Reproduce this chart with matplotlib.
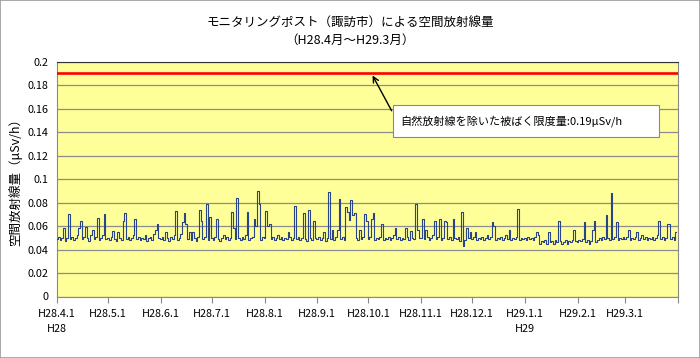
import matplotlib
matplotlib.use("Agg")
import matplotlib.pyplot as plt
import matplotlib.dates as mdates
from matplotlib.patches import Rectangle
import numpy as np
import datetime as dt

plt.rcParams['font.family'] = ['Noto Sans CJK JP', 'DejaVu Sans']

# ---- data (daily dose rate, μSv/h) ----
apr = [0.049, 0.051, 0.048, 0.050, 0.058, 0.047, 0.050, 0.070, 0.049, 0.051,
       0.048, 0.050, 0.052, 0.058, 0.064, 0.049, 0.051, 0.059, 0.050, 0.047,
       0.052, 0.057, 0.049, 0.051, 0.067, 0.048, 0.050, 0.052, 0.070, 0.049]
may = [0.050, 0.048, 0.051, 0.056, 0.049, 0.047, 0.055, 0.050, 0.048, 0.064,
       0.071, 0.049, 0.051, 0.048, 0.050, 0.052, 0.066, 0.049, 0.051, 0.048,
       0.050, 0.049, 0.052, 0.047, 0.050, 0.051, 0.048, 0.053, 0.057, 0.062, 0.050]
jun = [0.049, 0.051, 0.048, 0.055, 0.050, 0.047, 0.051, 0.049, 0.052, 0.073,
       0.048, 0.050, 0.053, 0.063, 0.071, 0.062, 0.049, 0.055, 0.048, 0.055,
       0.050, 0.047, 0.051, 0.074, 0.064, 0.049, 0.051, 0.079, 0.048, 0.068]
jul = [0.050, 0.048, 0.051, 0.066, 0.049, 0.047, 0.050, 0.052, 0.049, 0.051,
       0.048, 0.050, 0.072, 0.058, 0.049, 0.084, 0.050, 0.048, 0.051, 0.049,
       0.052, 0.072, 0.048, 0.050, 0.051, 0.066, 0.060, 0.090, 0.079, 0.048, 0.051]
aug = [0.050, 0.073, 0.060, 0.062, 0.049, 0.051, 0.048, 0.050, 0.052, 0.049,
       0.051, 0.048, 0.050, 0.049, 0.055, 0.051, 0.048, 0.050, 0.077, 0.049,
       0.051, 0.048, 0.050, 0.071, 0.049, 0.047, 0.074, 0.050, 0.048, 0.064, 0.050]
sep = [0.049, 0.051, 0.048, 0.050, 0.055, 0.047, 0.050, 0.089, 0.049, 0.057,
       0.048, 0.051, 0.057, 0.083, 0.049, 0.051, 0.048, 0.076, 0.072, 0.065,
       0.082, 0.069, 0.071, 0.050, 0.048, 0.057, 0.049, 0.051, 0.070, 0.064]
oct_ = [0.049, 0.051, 0.066, 0.071, 0.048, 0.050, 0.049, 0.051, 0.062, 0.048,
        0.050, 0.049, 0.051, 0.048, 0.050, 0.052, 0.058, 0.049, 0.051, 0.048,
        0.050, 0.049, 0.058, 0.051, 0.048, 0.056, 0.050, 0.049, 0.079, 0.057, 0.050]
nov = [0.050, 0.066, 0.049, 0.057, 0.051, 0.048, 0.050, 0.052, 0.064, 0.049,
       0.051, 0.066, 0.048, 0.050, 0.064, 0.063, 0.049, 0.051, 0.048, 0.066,
       0.050, 0.049, 0.051, 0.047, 0.072, 0.043, 0.048, 0.058, 0.050, 0.055]
dec = [0.049, 0.051, 0.055, 0.048, 0.050, 0.049, 0.051, 0.048, 0.050, 0.052,
       0.049, 0.051, 0.063, 0.060, 0.048, 0.050, 0.049, 0.051, 0.048, 0.050,
       0.052, 0.049, 0.057, 0.048, 0.050, 0.049, 0.051, 0.0745, 0.048, 0.050, 0.049]
jan = [0.050, 0.048, 0.051, 0.049, 0.050, 0.048, 0.051, 0.055, 0.052, 0.045,
       0.047, 0.046, 0.048, 0.045, 0.055, 0.046, 0.047, 0.045, 0.048, 0.046,
       0.0645, 0.047, 0.045, 0.046, 0.048, 0.045, 0.047, 0.046, 0.048, 0.057, 0.047]
feb = [0.046, 0.048, 0.047, 0.049, 0.063, 0.046, 0.048, 0.045, 0.047, 0.057,
       0.064, 0.046, 0.048, 0.050, 0.048, 0.051, 0.049, 0.069, 0.050, 0.048,
       0.088, 0.049, 0.051, 0.063, 0.048, 0.050, 0.049, 0.051]
mar = [0.049, 0.051, 0.057, 0.048, 0.050, 0.049, 0.051, 0.055, 0.048, 0.050,
       0.052, 0.049, 0.051, 0.048, 0.050, 0.049, 0.051, 0.048, 0.050, 0.052,
       0.0645, 0.049, 0.051, 0.048, 0.050, 0.0615, 0.062, 0.049, 0.051, 0.048, 0.055]

dose = apr + may + jun + jul + aug + sep + oct_ + nov + dec + jan + feb + mar
start_date = dt.date(2016, 4, 1)
limit_value = 0.19

tick_labels = ["H28.4.1", "H28.5.1", "H28.6.1", "H28.7.1", "H28.8.1", "H28.9.1",
               "H28.10.1", "H28.11.1", "H28.12.1", "H29.1.1", "H29.2.1", "H29.3.1", ""]
era_labels = ["H28", "H29"]

title = "モニタリングポスト（諏訪市）による空間放射線量\n（H28.4月～H29.3月）"
ylabel = "空間放射線量（μSv/h）"
note = "自然放射線を除いた被ばく限度量:0.19μSv/h"

# ---- figure ----
fig = plt.figure(figsize=(7.0, 3.58), dpi=100)
ax = fig.add_axes([57/700, 1-296.5/358, 621/700, 235/358])
ax.set_facecolor('#FFFF99')

dates = [start_date + dt.timedelta(days=i) for i in range(len(dose))]
ax.plot(dates, dose, color='#2A4586', lw=0.8, drawstyle='steps-mid', zorder=3)
ax.axhline(limit_value, color='#FF0000', lw=1.9, zorder=4)

ax.set_ylim(0, 0.2)
ax.set_yticks(np.arange(0, 0.2001, 0.02))
ax.set_yticklabels(["0", "0.02", "0.04", "0.06", "0.08", "0.1", "0.12", "0.14",
                    "0.16", "0.18", "0.2"])
ax.grid(axis='y', color='#8C8C8C', lw=0.9, zorder=1)
ax.set_axisbelow(True)

month_ticks = [dt.date(2016 + (m + 3) // 12, (m + 3) % 12 + 1, 1) for m in range(13)]
ax.set_xlim(month_ticks[0], month_ticks[-1])
ax.set_xticks(month_ticks)
ax.set_xticklabels(tick_labels)
ax.tick_params(axis='x', direction='out', length=4, color='#888888', labelsize=7.8, pad=5)
ax.tick_params(axis='y', length=0, labelsize=7.8, pad=6)
for s in ['left', 'bottom']:
    ax.spines[s].set_color('#888888')
ax.spines['top'].set_color('#333333')
ax.spines['right'].set_color('#888888')

for lab, d in zip(era_labels, [month_ticks[0], month_ticks[9]]):
    ax.text(d, -0.14, lab, transform=ax.get_xaxis_transform(), ha='center',
            va='center', fontsize=7.8)

ax.set_ylabel(ylabel, fontsize=9, labelpad=4)
fig.text(0.5, 1 - 32/358, title, ha='center', va='center', fontsize=9, linespacing=1.4)

# annotation box and arrow
ax.add_patch(Rectangle((0.541, 0.679), 0.428, 0.136, transform=ax.transAxes,
                       facecolor='white', edgecolor='#888888', lw=0.8, zorder=5))
ax.text(0.553, 0.747, note, transform=ax.transAxes, ha='left', va='center',
        fontsize=8, zorder=6)
ax.annotate('', xy=(0.506, 0.951), xycoords='axes fraction',
            xytext=(0.541, 0.78), textcoords='axes fraction',
            arrowprops=dict(arrowstyle='->', color='black', lw=1.0,
                            mutation_scale=10), zorder=6)

fig.patches.append(Rectangle((0, 0), 1, 1, transform=fig.transFigure, fill=False,
                             edgecolor='#999999', lw=1.2))

fig.savefig('out.png', dpi=100)
